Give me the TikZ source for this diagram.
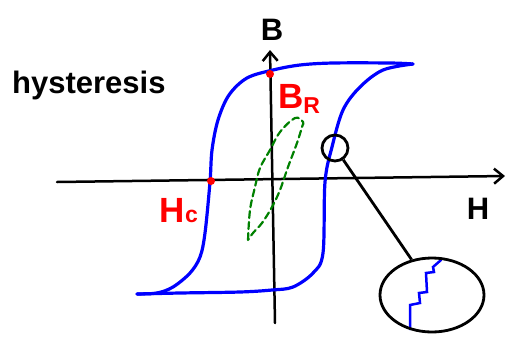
\documentclass[tikz,border=0pt]{standalone}
\usepackage{fontspec}
\setmainfont{Liberation Sans}
\usetikzlibrary{arrows.meta,shapes.geometric}
\tikzset{
  majorloop/.style={blue, line width=3.2pt, line join=round, line cap=round},
  minorloop/.style={green!50!black, line width=2.2pt, dash pattern=on 7pt off 4pt, line cap=round},
  axis/.style={line width=2.5pt, line cap=round},
  axisarrow/.style={axis, -{Straight Barb[length=9pt,width=15pt,line width=2.5pt]}},
  ink/.style={line width=2.8pt},
  reddot/.style={circle, fill=red, inner sep=0pt, minimum size=8pt},
  handtext/.style={font=\fontsize{31}{31}\selectfont\bfseries, inner sep=0pt},
  redtext/.style={handtext, red, font=\fontsize{35}{35}\selectfont\bfseries}
}
\newcommand{\lowsub}[1]{{\fontsize{23}{23}\selectfont\raisebox{-5pt}{#1}}}

\begin{document}
\begin{tikzpicture}[x=1pt, y=-1pt]
  \useasboundingbox (0,0) rectangle (506,341);
  % axes
  \coordinate (Hstart) at (57,182);
  \coordinate (Hend) at (505,176);
  \coordinate (Bstart) at (275,323);
  \coordinate (Bend) at (270,50);
  \draw[axisarrow] (Hstart) -- (Hend);
  \draw[axisarrow] (Bstart) -- (Bend);
  \node[handtext] (Blabel) at (272,30) {B};
  \node[handtext] (Hlabel) at (478,209) {H};
  \node[handtext, anchor=base west] (title) at (12,93) {hysteresis};
  % main loop
  \draw[majorloop] plot[smooth, tension=0.55] coordinates {(413,64) (390,63) (333,63) (300,65) (273,70) (247,78) (229,95) (218,120) (212,150) (210,182) (205,233) (200,257) (190,273) (173,287) (157,293) (137,294)};
  \draw[majorloop] plot[smooth, tension=0.55] coordinates {(137,294) (180,293) (240,292) (272,290) (293,287) (313,273) (323,253) (325,182) (332,147) (343,110) (360,87) (383,70) (413,64)};
  % minor loop
  \draw[minorloop] plot[smooth, tension=0.6] coordinates {(248,240) (250,210) (255,187) (260,168) (270,150) (280,132) (295,118) (303,122) (302,127) (297,143) (288,167) (280,190) (272,207) (262,223) (253,233) (248,240)};
  % remanence and coercivity
  \node[reddot] (BRdot) at (270,74) {};
  \node[reddot] (HCdot) at (211,181) {};
  \node[redtext, anchor=base west] (BRlabel) at (278,108) {B\lowsub{R}};
  \node[redtext, anchor=base east] (HClabel) at (198,222) {H{\fontsize{23}{23}\selectfont c}};
  % close-up
  \draw[majorloop, line width=2.5pt, line join=miter] (410,329) -- (410,305) -- (420,303) -- (419,293) -- (427,292) -- (426,273) -- (434,272) -- (433,267) -- (441,260);
  \node[circle, draw, ink, minimum size=26pt, inner sep=0pt] (spot) at (335,148) {};
  \node[ellipse, draw, ink, minimum width=104pt, minimum height=74pt, inner sep=0pt] (zoomview) at (432,295) {};
  \draw[ink] (spot.-55) -- (zoomview.120);
\end{tikzpicture}
\end{document}
